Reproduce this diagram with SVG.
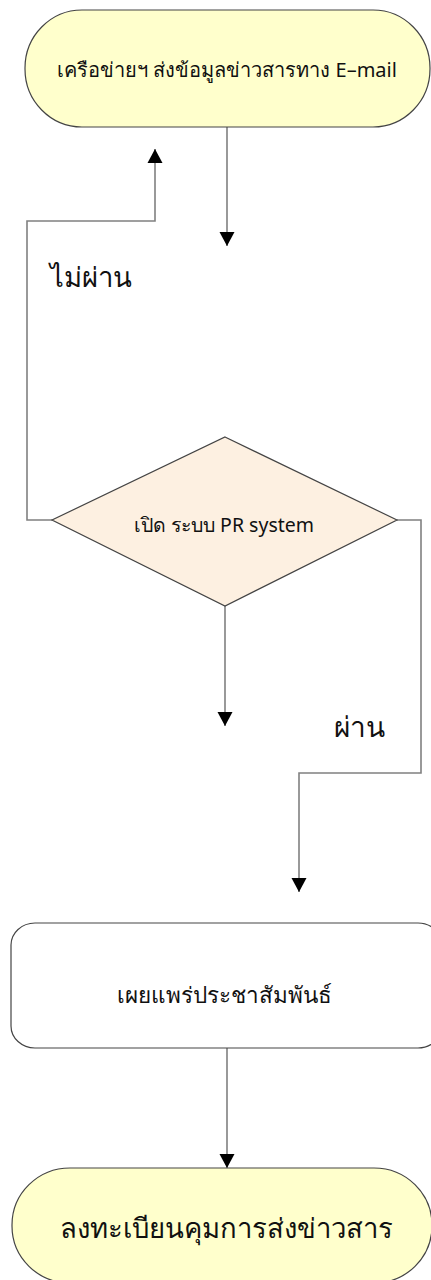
<svg xmlns="http://www.w3.org/2000/svg" width="431" height="1280" viewBox="0 0 431 1280">
<style>
.node{stroke:#444;stroke-width:1.2}
.term{fill:#FFFFCC}
.dec{fill:#FDF0E1}
.proc{fill:#FFFFFF}
.conn{fill:none;stroke:#808080;stroke-width:1.6}
.t{font-family:"Noto Sans","DejaVu Sans",sans-serif;fill:#111;text-anchor:middle}
.lbl{font-family:"Noto Sans","DejaVu Sans",sans-serif;fill:#111}
</style>
<defs>
<marker id="arr" markerUnits="userSpaceOnUse" markerWidth="16" markerHeight="16" viewBox="0 0 16 16" refX="14" refY="8" orient="auto">
<path d="M0,0.5 L14,8 L0,15.5 Z" fill="#000"/>
</marker>
</defs>
<rect width="431" height="1280" fill="#fff"/>
<g id="connectors">
<path class="conn" d="M227,127 V246" marker-end="url(#arr)"/>
<path class="conn" d="M52,520 H27 V221 H155 V149" marker-end="url(#arr)"/>
<path class="conn" d="M225,606 V726" marker-end="url(#arr)"/>
<path class="conn" d="M397,520 H421 V773 H299 V892" marker-end="url(#arr)"/>
<path class="conn" d="M227,1048 V1168" marker-end="url(#arr)"/>
</g>
<g id="lbl-fail"><text class="lbl" x="50" y="287" font-size="27.5">ไม่ผ่าน</text></g>
<g id="lbl-pass"><text class="lbl" x="334" y="737" font-size="28">ผ่าน</text></g>
<g id="n1">
<rect class="node term" x="25" y="10" width="405" height="117" rx="57" ry="58"/>
<text class="t" x="227" y="77" font-size="20">เครือข่ายฯ ส่งข้อมูลข่าวสารทาง E–mail</text>
</g>
<g id="n2">
<polygon class="node dec" points="225,437 397,520 225,606 52,520"/>
<text class="t" x="224" y="532" font-size="19.5">เปิด ระบบ PR system</text>
</g>
<g id="n3">
<rect class="node proc" x="11" y="923" width="431" height="125" rx="24" ry="22"/>
<text class="t" x="224" y="1003" font-size="22.5">เผยแพร่ประชาสัมพันธ์</text>
</g>
<g id="n4">
<rect class="node term" x="12" y="1168" width="420" height="115" rx="58" ry="57"/>
<text class="t" x="226" y="1238" font-size="27.5">ลงทะเบียนคุมการส่งข่าวสาร</text>
</g>
</svg>
